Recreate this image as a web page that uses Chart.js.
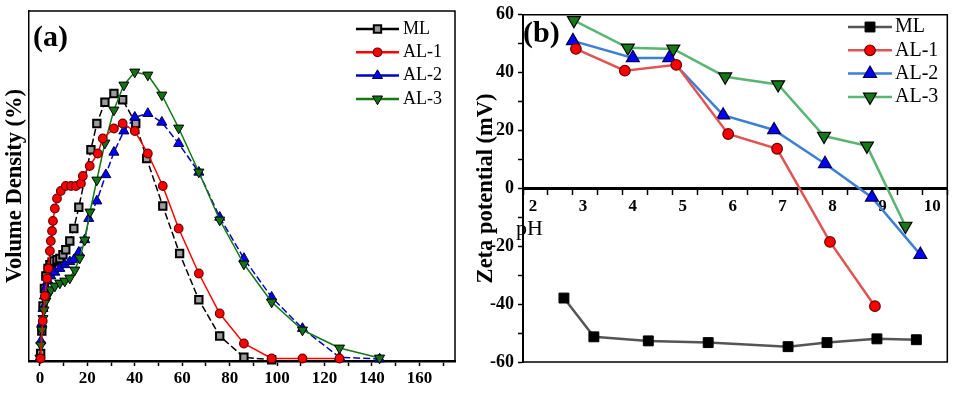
<!DOCTYPE html>
<html>
<head>
<meta charset="utf-8">
<script src="https://cdn.jsdelivr.net/npm/chart.js@4/dist/chart.umd.min.js"></script>
<style>
  body { margin: 0; background: #fff; width: 956px; height: 393px; overflow: hidden; position: relative; }
  #wrapA { position: absolute; left: 0; top: 0; width: 470px; height: 393px; }
  #wrapB { position: absolute; left: 470px; top: 0; width: 486px; height: 393px; }
</style>
</head>
<body>
<div id="wrapA"><canvas id="sizeChart"></canvas></div>
<div id="wrapB"><canvas id="zetaChart"></canvas></div>
<script>
/////////////////////////////// DATA (a) : size distribution ///////////////////////////////
const sizeTicks = [0, 10, 20, 30, 40, 50, 60, 70, 80, 90, 100, 110, 120, 130, 140, 150, 160, 170];

const mlSize = [0.3, 0.8, 1.3, 1.9, 2.5, 3.4, 4.2, 5.1, 5.9, 7.2, 8.4, 9.7, 10.9, 12.6, 14.3, 16.4, 21.5, 24.0, 27.4, 31.2, 34.9, 40.4, 45.0, 51.8, 58.9, 67.0, 75.8, 86.0, 97.7];
const mlVol  = [0.3, 1.2, 2.2, 2.9, 3.4, 3.7, 3.85, 3.95, 4.0, 4.05, 4.1, 4.25, 4.45, 4.8, 5.3, 6.15, 8.45, 9.5, 10.35, 10.7, 10.45, 9.5, 8.1, 6.2, 4.3, 2.45, 1.0, 0.15, 0.05];

const al1Size = [0.3, 1.2, 2.1, 3.0, 3.6, 4.2, 4.6, 5.1, 5.5, 6.3, 7.2, 8.8, 10.9, 13.1, 15.2, 17.3, 18.1, 21.0, 24.4, 26.5, 31.2, 34.9, 40.0, 45.5, 51.8, 58.5, 67.0, 75.8, 86.0, 97.7, 110.7, 126.3];
const al1Vol  = [0.1, 1.6, 2.6, 3.3, 3.7, 4.4, 4.8, 5.2, 5.6, 6.1, 6.5, 6.8, 7.0, 7.0, 7.0, 7.1, 7.4, 7.8, 8.3, 8.9, 9.3, 9.5, 9.2, 8.3, 7.0, 5.3, 3.5, 1.9, 0.7, 0.1, 0.1, 0.1];

const al2Size = [0, 0.4, 0.8, 1.3, 1.9, 2.5, 3.4, 4.6, 6.3, 8.4, 10.5, 12.6, 14.3, 16.4, 18.9, 20.6, 24.0, 27.8, 31.2, 35.4, 40.0, 45.5, 51.4, 58.5, 67.0, 75.8, 86.0, 97.7, 110.7, 126.3, 143.2];
const al2Vol  = [0.12, 0.8, 1.5, 2.1, 2.6, 2.95, 3.2, 3.4, 3.55, 3.7, 3.85, 3.97, 4.05, 4.35, 4.85, 5.7, 6.4, 7.45, 8.35, 9.2, 9.75, 9.9, 9.55, 8.7, 7.55, 5.75, 4.1, 2.55, 1.3, 0.15, 0.08];

const al3Size = [0, 0.4, 0.8, 1.3, 1.7, 2.5, 3.4, 4.6, 6.3, 8.4, 10.5, 12.6, 14.7, 16.8, 18.9, 21.1, 24.0, 27.4, 31.2, 35.4, 40.0, 45.5, 51.4, 58.5, 67.0, 75.8, 86.0, 97.7, 110.7, 126.3, 143.2];
const al3Vol  = [0.12, 0.64, 1.24, 1.7, 2.04, 2.4, 2.64, 2.85, 3.0, 3.12, 3.2, 3.32, 3.64, 4.12, 4.84, 5.96, 7.24, 8.72, 10.04, 11.04, 11.56, 11.44, 10.64, 9.32, 7.56, 5.64, 3.88, 2.36, 1.24, 0.52, 0.12];

/////////////////////////////// DATA (b) : zeta potential ///////////////////////////////
const phTicks = [2, 2.5, 3, 3.5, 4, 4.5, 5, 5.5, 6, 6.5, 7, 7.5, 8, 8.5, 9, 9.5, 10, 10.5];
const zetaTicks = [-60, -50, -40, -30, -20, -10, 0, 10, 20, 30, 40, 50, 60];

const mlPh    = [2.82, 3.42, 4.51, 5.71, 7.31, 8.09, 9.09, 9.88];
const mlZeta  = [-37.9, -51.3, -52.7, -53.3, -54.7, -53.3, -52.0, -52.3];

const al1Ph   = [3.06, 4.04, 5.07, 6.11, 7.09, 8.15, 9.05];
const al1Zeta = [48.2, 40.7, 42.7, 18.8, 13.7, -18.5, -40.7];

const al2Ph   = [3.0, 4.2, 4.93, 6.01, 7.03, 8.05, 8.99, 9.96];
const al2Zeta = [51.0, 45.1, 45.1, 25.3, 20.2, 8.5, -3.1, -22.9];

const al3Ph   = [3.02, 4.1, 5.01, 6.05, 7.11, 8.03, 8.89, 9.66];
const al3Zeta = [58.1, 48.6, 48.2, 38.6, 35.9, 18.1, 14.7, -13.0];

/////////////////////////////// HELPERS ///////////////////////////////
const serif = "'Liberation Serif', 'Times New Roman', serif";

function pairUp(xs, ys) {
    return xs.map((x, i) => ({ x: x, y: ys[i] }));
}

// top / right (and optional bottom) border of the plot box
const framePlugin = {
    id: 'frame',
    afterDraw(chart, args, opts) {
        const { ctx, chartArea: a } = chart;
        ctx.save();
        ctx.strokeStyle = '#000';
        ctx.lineWidth = 1.5;
        ctx.setLineDash([]);
        ctx.beginPath();
        ctx.moveTo(a.left, a.top);
        ctx.lineTo(a.right, a.top);
        ctx.lineTo(a.right, a.bottom);
        if (opts.bottom) ctx.lineTo(a.left, a.bottom);
        ctx.stroke();
        ctx.restore();
    }
};

// small legend drawn inside the plot, like Origin does
const miniLegend = {
    id: 'miniLegend',
    afterDraw(chart, args, o) {
        const ctx = chart.ctx;
        ctx.save();
        chart.data.datasets.forEach((d, i) => {
            const y = o.y + i * o.dy;
            ctx.setLineDash([]);
            ctx.strokeStyle = d.borderColor;
            ctx.lineWidth = o.lineWidth;
            ctx.beginPath();
            ctx.moveTo(o.x, y);
            ctx.lineTo(o.x + o.len, y);
            ctx.stroke();
            ctx.fillStyle = d.pointBackgroundColor;
            ctx.strokeStyle = d.pointBorderColor;
            ctx.lineWidth = d.pointBorderWidth;
            Chart.helpers.drawPoint(ctx, {
                pointStyle: d.pointStyle,
                rotation: d.pointRotation || 0,
                radius: d.pointRadius,
                borderWidth: d.pointBorderWidth
            }, o.x + o.len / 2, y);
            ctx.fillStyle = '#000';
            ctx.font = o.font;
            ctx.textAlign = 'left';
            ctx.textBaseline = 'middle';
            ctx.fillText(d.label, o.x + o.len + o.gap, y);
        });
        ctx.restore();
    }
};

// free text: panel letters and the pH label
const notes = {
    id: 'notes',
    afterDraw(chart, args, o) {
        const ctx = chart.ctx;
        ctx.save();
        ctx.fillStyle = '#000';
        ctx.textBaseline = 'middle';
        ctx.textAlign = 'left';
        o.items.forEach(t => {
            ctx.font = t.font;
            ctx.fillText(t.text, t.x, t.y);
        });
        ctx.restore();
    }
};

/////////////////////////////// CHART (a) ///////////////////////////////
const sizeChart = new Chart(document.getElementById('sizeChart'), {
    type: 'line',
    data: {
        datasets: [
            { label: 'ML', data: pairUp(mlSize, mlVol), borderColor: '#000000', borderWidth: 1.5, borderDash: [7, 3],
              pointStyle: 'rect', pointRadius: 5.2, pointBackgroundColor: '#9b9b9b', pointBorderColor: '#000000', pointBorderWidth: 2, clip: false, order: 4 },
            { label: 'AL-1', data: pairUp(al1Size, al1Vol), borderColor: '#ff0000', borderWidth: 1.5,
              pointStyle: 'circle', pointRadius: 4.3, pointBackgroundColor: '#ff0000', pointBorderColor: '#6a0000', pointBorderWidth: 1.2, clip: false, order: 1 },
            { label: 'AL-2', data: pairUp(al2Size, al2Vol), borderColor: '#0000cc', borderWidth: 1.5, borderDash: [7, 3],
              pointStyle: 'triangle', pointRadius: 5.8, pointBackgroundColor: '#0000ff', pointBorderColor: '#000030', pointBorderWidth: 1, clip: false, order: 3 },
            { label: 'AL-3', data: pairUp(al3Size, al3Vol), borderColor: '#137a13', borderWidth: 1.5,
              pointStyle: 'triangle', pointRotation: 180, pointRadius: 5.8, pointBackgroundColor: '#137313', pointBorderColor: '#000000', pointBorderWidth: 1, clip: false, order: 2 }
        ]
    },
    options: {
        responsive: true,
        maintainAspectRatio: false,
        animation: false,
        devicePixelRatio: 1,
        layout: { padding: { top: 11, right: 15, left: 0, bottom: 0 } },
        plugins: {
            legend: { display: false },
            tooltip: { enabled: false },
            frame: { bottom: false },
            miniLegend: { x: 356, y: 29, dy: 23.3, len: 43, gap: 4, lineWidth: 2.5, font: '18px ' + serif },
            notes: { items: [{ text: '(a)', x: 33, y: 38, font: 'bold 30px ' + serif }] }
        },
        scales: {
            x: {
                type: 'linear', min: -4.6, max: 175,
                afterBuildTicks: s => { s.ticks = sizeTicks.map(v => ({ value: v })); },
                afterFit: s => { s.height = 32; },
                grid: { drawOnChartArea: false, tickLength: 5, tickColor: '#000', tickWidth: 1.5 },
                border: { color: '#000', width: 2.5 },
                ticks: {
                    font: { family: serif, size: 17, weight: 'bold' }, color: '#000', padding: 2,
                    maxRotation: 0, autoSkip: false,
                    callback: v => (v % 20 === 0 ? v : '')
                }
            },
            y: {
                min: 0, max: 14,
                afterFit: s => { s.width = 29; },
                ticks: { display: false },
                grid: { display: false },
                border: { color: '#000', width: 1.5 },
                title: { display: true, text: 'Volume Density (%)', color: '#000',
                         font: { family: serif, size: 22.5, weight: 'bold' }, padding: { top: 2, bottom: 0 } }
            }
        }
    },
    plugins: [framePlugin, miniLegend, notes]
});

/////////////////////////////// CHART (b) ///////////////////////////////
const zetaChart = new Chart(document.getElementById('zetaChart'), {
    type: 'line',
    data: {
        datasets: [
            { label: 'ML', data: pairUp(mlPh, mlZeta), borderColor: '#555555', borderWidth: 2.5,
              pointStyle: 'rect', pointRadius: 7, pointBackgroundColor: '#000000', pointBorderColor: '#000000', pointBorderWidth: 1, clip: false },
            { label: 'AL-1', data: pairUp(al1Ph, al1Zeta), borderColor: '#e05454', borderWidth: 2.5,
              pointStyle: 'circle', pointRadius: 5.3, pointBackgroundColor: '#ff0000', pointBorderColor: '#6a0000', pointBorderWidth: 1.2, clip: false },
            { label: 'AL-2', data: pairUp(al2Ph, al2Zeta), borderColor: '#3c7fd6', borderWidth: 2.5,
              pointStyle: 'triangle', pointRadius: 7.5, pointBackgroundColor: '#0000ff', pointBorderColor: '#00004a', pointBorderWidth: 1.2, clip: false },
            { label: 'AL-3', data: pairUp(al3Ph, al3Zeta), borderColor: '#58b572', borderWidth: 2.5,
              pointStyle: 'triangle', pointRotation: 180, pointRadius: 7.5, pointBackgroundColor: '#157a15', pointBorderColor: '#000000', pointBorderWidth: 1.2, clip: false }
        ]
    },
    options: {
        responsive: true,
        maintainAspectRatio: false,
        animation: false,
        devicePixelRatio: 1,
        layout: { padding: { top: 11, right: 7, left: 0, bottom: 31 } },
        plugins: {
            legend: { display: false },
            tooltip: { enabled: false },
            frame: { bottom: true },
            miniLegend: { x: 378, y: 27, dy: 23.3, len: 44, gap: 3, lineWidth: 2.5, font: '20px ' + serif },
            notes: { items: [
                { text: '(b)', x: 53, y: 34, font: 'bold 30px ' + serif },
                { text: 'pH', x: 46, y: 229, font: '22px ' + serif }
            ] }
        },
        scales: {
            x: {
                type: 'linear', min: 2, max: 10.5,
                position: { y: 0 },
                afterBuildTicks: s => { s.ticks = phTicks.map(v => ({ value: v })); },
                grid: { drawOnChartArea: false, tickLength: 5, tickColor: '#000', tickWidth: 1.5 },
                border: { color: '#000', width: 3 },
                ticks: {
                    font: { family: serif, size: 17, weight: 'bold' }, color: '#000', padding: 3,
                    labelOffset: 10, maxRotation: 0, autoSkip: false,
                    callback: v => (Number.isInteger(v) && v < 10.5 ? v : '')
                }
            },
            y: {
                min: -60, max: 60,
                afterBuildTicks: s => { s.ticks = zetaTicks.map(v => ({ value: v })); },
                afterFit: s => { s.width = 53; },
                grid: { drawOnChartArea: false, tickLength: 5, tickColor: '#000', tickWidth: 1.5 },
                border: { color: '#000', width: 2 },
                ticks: {
                    font: { family: serif, size: 18, weight: 'bold' }, color: '#000', padding: 4,
                    autoSkip: false,
                    callback: v => (v % 20 === 0 ? v : '')
                },
                title: { display: true, text: 'Zeta potential (mV)', color: '#000',
                         font: { family: serif, size: 22.5, weight: 'bold' }, padding: { top: 3, bottom: 0 } }
            }
        }
    },
    plugins: [framePlugin, miniLegend, notes]
});
</script>
</body>
</html>
